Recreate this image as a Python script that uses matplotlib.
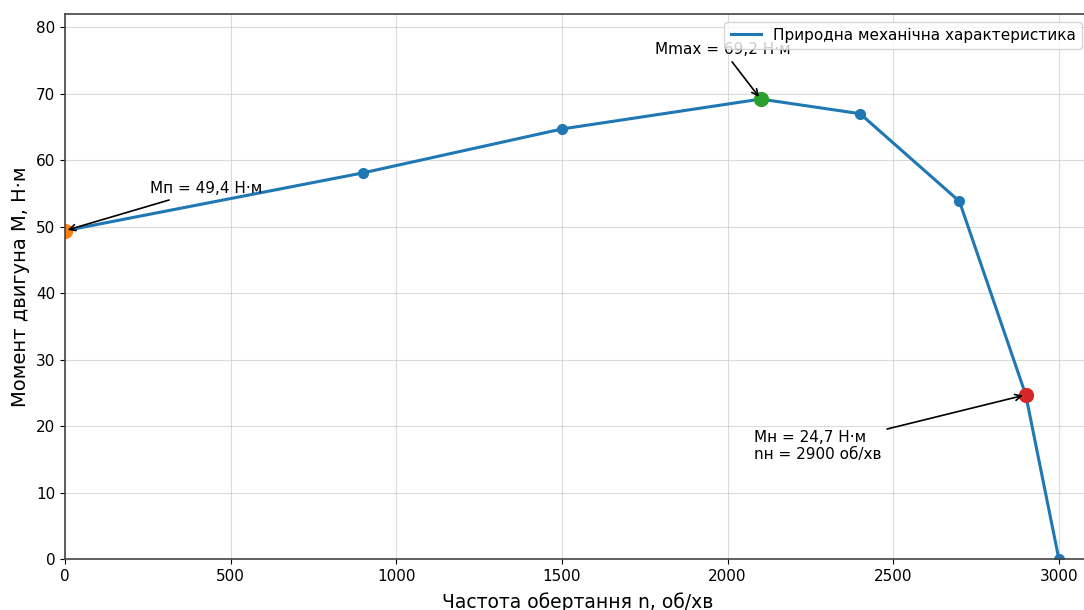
import matplotlib
matplotlib.use("Agg")
import matplotlib.pyplot as plt

# speed n (rpm) and torque M (N*m) of the natural mechanical characteristic
n_values = [0, 900, 1500, 2100, 2400, 2700, 2900, 3000]
m_values = [49.4, 58.1, 64.7, 69.2, 67.0, 53.8, 24.7, 0.0]

n_start, m_start = 0, 49.4
n_max, m_max = 2100, 69.2
n_nom, m_nom = 2900, 24.7

x_ticks = [0, 500, 1000, 1500, 2000, 2500, 3000]
y_ticks = [0, 10, 20, 30, 40, 50, 60, 70, 80]

fig = plt.figure(figsize=(10.84, 6.10), dpi=100)
ax = fig.add_axes([65 / 1084, 51 / 610, 1025 / 1084, 545 / 610])

ax.plot(n_values, m_values, "-", color="#1f77b4", lw=2.2,
        label="Природна механічна характеристика")
ax.plot(n_values, m_values, "o", color="#1f77b4", ms=7)
ax.plot(n_start, m_start, "o", color="#ff7f0e", ms=10)
ax.plot(n_max, m_max, "o", color="#2ca02c", ms=10)
ax.plot(n_nom, m_nom, "o", color="#d62728", ms=10)

arrow = dict(arrowstyle="->", color="black", lw=1.2)
ax.annotate("Mп = 49,4 Н·м", xy=(n_start, m_start), xytext=(258, 55),
            fontsize=11, arrowprops=arrow)
ax.annotate("Mmax = 69,2 Н·м", xy=(n_max, m_max), xytext=(1780, 76),
            fontsize=11, arrowprops=arrow)
ax.annotate("Mн = 24,7 Н·м\nnн = 2900 об/хв", xy=(n_nom, m_nom), xytext=(2080, 15),
            fontsize=11, arrowprops=arrow)

ax.set_xlim(0, 3094)
ax.set_ylim(0, 82)
ax.set_xticks(x_ticks)
ax.set_yticks(y_ticks)
ax.tick_params(labelsize=11)
for sp in ax.spines.values():
    sp.set_color("#444444")
    sp.set_linewidth(1.2)
ax.grid(True, color="#cccccc", alpha=0.7)
ax.set_xlabel("Частота обертання n, об/хв", fontsize=13.5, labelpad=6)
ax.set_ylabel("Момент двигуна M, Н·м", fontsize=14)
ax.legend(loc="upper right", fontsize=11)

fig.savefig("out.png", dpi=100)
